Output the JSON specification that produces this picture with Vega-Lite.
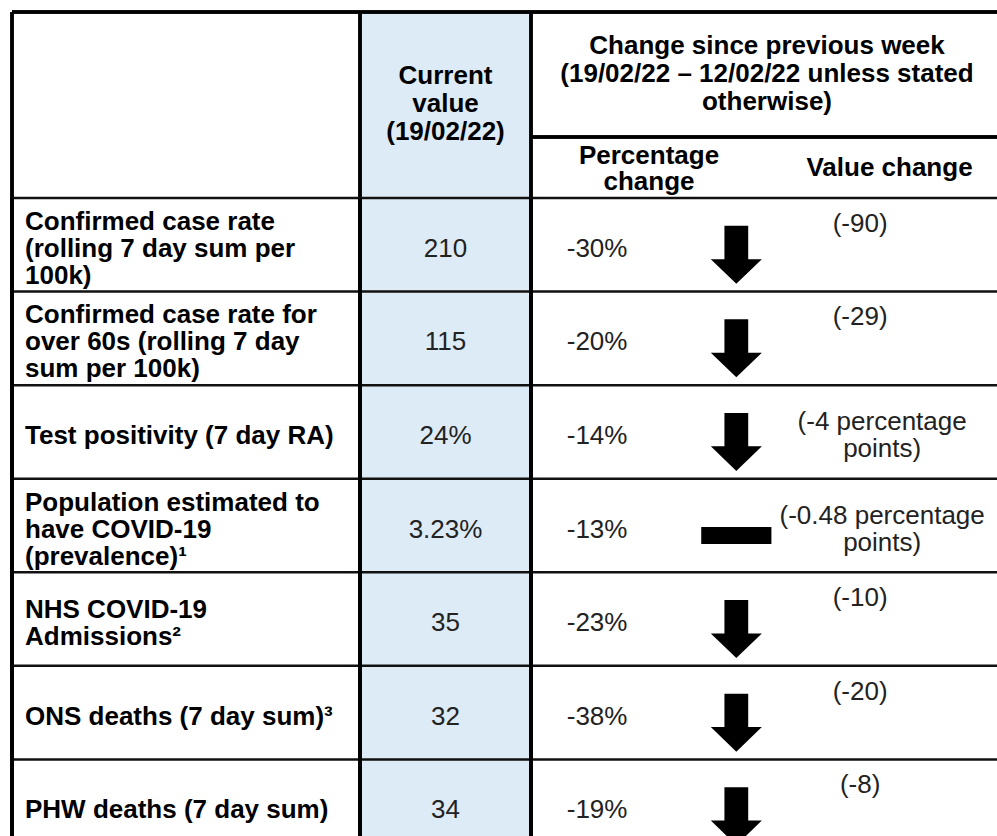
{
  "$schema": "https://vega.github.io/schema/vega-lite/v6.json",
  "padding": {"left": 10, "top": 10, "right": 0, "bottom": 0},
  "background": "white",
  "spacing": 0,
  "bounds": "flush",
  "config": {
    "view": {"stroke": null},
    "font": "Liberation Sans",
    "text": {"font": "Liberation Sans", "fontSize": 26, "lineHeight": 27, "lineBreak": "\n", "color": "#222222"}
  },
  "datasets": {
    "header": [
      {"part": "current", "text": "Current\nvalue\n(19/02/22)"},
      {"part": "change", "text": "Change since previous week\n(19/02/22 – 12/02/22 unless stated\notherwise)"},
      {"part": "pct", "text": "Percentage\nchange"},
      {"part": "value", "text": "Value change"}
    ],
    "metrics": [
      {"id": "m1", "label": "Confirmed case rate\n(rolling 7 day sum per\n100k)", "current": "210", "pct": "-30%", "direction": "down", "change": "(-90)"},
      {"id": "m2", "label": "Confirmed case rate for\nover 60s (rolling 7 day\nsum per 100k)", "current": "115", "pct": "-20%", "direction": "down", "change": "(-29)"},
      {"id": "m3", "label": "Test positivity (7 day RA)", "current": "24%", "pct": "-14%", "direction": "down", "change": "(-4 percentage\npoints)"},
      {"id": "m4", "label": "Population estimated to\nhave COVID-19\n(prevalence)¹", "current": "3.23%", "pct": "-13%", "direction": "flat", "change": "(-0.48 percentage\npoints)"},
      {"id": "m5", "label": "NHS COVID-19\nAdmissions²", "current": "35", "pct": "-23%", "direction": "down", "change": "(-10)"},
      {"id": "m6", "label": "ONS deaths (7 day sum)³", "current": "32", "pct": "-38%", "direction": "down", "change": "(-20)"},
      {"id": "m7", "label": "PHW deaths (7 day sum)", "current": "34", "pct": "-19%", "direction": "down", "change": "(-8)"}
    ]
  },
  "vconcat": [
    {
      "width": 987,
      "height": 186,
      "data": {"name": "header"},
      "layer": [
        {
          "mark": {"type": "rect", "color": "#DDEBF7"},
          "encoding": {
            "x": {"datum": 1, "type": "quantitative", "scale": {"domain": [0, 1, 2, 3, 4], "range": [0, 348, 519, 755, 1000], "nice": false, "zero": false}, "axis": null},
            "x2": {"datum": 2},
            "y": {"datum": 0, "type": "quantitative", "scale": {"domain": [0, 1, 2], "range": [0, 125, 186], "nice": false, "zero": false}, "axis": null},
            "y2": {"datum": 2}
          }
        },
        {
          "mark": {"type": "rule", "color": "#000000", "strokeWidth": 3, "clip": true},
          "encoding": {
            "x": {"datum": 2, "type": "quantitative", "scale": {"domain": [0, 1, 2, 3, 4], "range": [0, 348, 519, 755, 1000], "nice": false, "zero": false}, "axis": null},
            "x2": {"datum": 4},
            "y": {"datum": 1, "type": "quantitative", "scale": {"domain": [0, 1, 2], "range": [0, 125, 186], "nice": false, "zero": false}, "axis": null}
          }
        },
        {
          "mark": {"type": "rule", "color": "#000000", "strokeWidth": 3},
          "encoding": {
            "y": {"datum": 0, "type": "quantitative", "scale": {"domain": [0, 1, 2], "range": [0, 125, 186], "nice": false, "zero": false}, "axis": null}
          }
        },
        {
          "mark": {"type": "rule", "color": "#000000", "strokeWidth": 3},
          "encoding": {
            "x": {"datum": 0, "type": "quantitative", "scale": {"domain": [0, 1, 2, 3, 4], "range": [0, 348, 519, 755, 1000], "nice": false, "zero": false}, "axis": null}
          }
        },
        {
          "mark": {"type": "rule", "color": "#000000", "strokeWidth": 3},
          "encoding": {
            "x": {"datum": 1, "type": "quantitative", "scale": {"domain": [0, 1, 2, 3, 4], "range": [0, 348, 519, 755, 1000], "nice": false, "zero": false}, "axis": null}
          }
        },
        {
          "mark": {"type": "rule", "color": "#000000", "strokeWidth": 3},
          "encoding": {
            "x": {"datum": 2, "type": "quantitative", "scale": {"domain": [0, 1, 2, 3, 4], "range": [0, 348, 519, 755, 1000], "nice": false, "zero": false}, "axis": null}
          }
        },
        {
          "transform": [{"filter": "datum.part == 'current'"}],
          "mark": {"type": "text", "fontWeight": "bold", "color": "#000000", "align": "center", "baseline": "middle", "lineHeight": 28, "dy": -29},
          "encoding": {
            "x": {"datum": 1.5, "type": "quantitative", "scale": {"domain": [0, 1, 2, 3, 4], "range": [0, 348, 519, 755, 1000], "nice": false, "zero": false}, "axis": null},
            "text": {"field": "text"}
          }
        },
        {
          "transform": [{"filter": "datum.part == 'change'"}],
          "mark": {"type": "text", "fontWeight": "bold", "color": "#000000", "align": "center", "baseline": "middle", "lineHeight": 28, "dy": -29},
          "encoding": {
            "x": {"datum": 3, "type": "quantitative", "scale": {"domain": [0, 1, 2, 3, 4], "range": [0, 348, 519, 755, 1000], "nice": false, "zero": false}, "axis": null},
            "y": {"datum": 0.5, "type": "quantitative", "scale": {"domain": [0, 1, 2], "range": [0, 125, 186], "nice": false, "zero": false}, "axis": null},
            "text": {"field": "text"}
          }
        },
        {
          "transform": [{"filter": "datum.part == 'pct'"}],
          "mark": {"type": "text", "fontWeight": "bold", "color": "#000000", "align": "center", "baseline": "middle", "lineHeight": 26, "dy": -12},
          "encoding": {
            "x": {"datum": 2.5, "type": "quantitative", "scale": {"domain": [0, 1, 2, 3, 4], "range": [0, 348, 519, 755, 1000], "nice": false, "zero": false}, "axis": null},
            "y": {"datum": 1.5, "type": "quantitative", "scale": {"domain": [0, 1, 2], "range": [0, 125, 186], "nice": false, "zero": false}, "axis": null},
            "text": {"field": "text"}
          }
        },
        {
          "transform": [{"filter": "datum.part == 'value'"}],
          "mark": {"type": "text", "fontWeight": "bold", "color": "#000000", "align": "center", "baseline": "middle", "dy": 0},
          "encoding": {
            "x": {"datum": 3.5, "type": "quantitative", "scale": {"domain": [0, 1, 2, 3, 4], "range": [0, 348, 519, 755, 1000], "nice": false, "zero": false}, "axis": null},
            "y": {"datum": 1.5, "type": "quantitative", "scale": {"domain": [0, 1, 2], "range": [0, 125, 186], "nice": false, "zero": false}, "axis": null},
            "text": {"field": "text"}
          }
        }
      ]
    },
    {
      "width": 987,
      "height": 640,
      "data": {"name": "metrics"},
      "layer": [
        {
          "mark": {"type": "rect", "color": "#DDEBF7"},
          "encoding": {
            "x": {"datum": 1, "type": "quantitative", "scale": {"domain": [0, 1, 2, 3, 4], "range": [0, 348, 519, 755, 1000], "nice": false, "zero": false}, "axis": null},
            "x2": {"datum": 2}
          }
        },
        {
          "mark": {"type": "rule", "color": "#111111", "strokeWidth": 2.5},
          "encoding": {
            "y": {"field": "id", "type": "nominal", "bandPosition": 0, "scale": {"type": "band", "domain": ["m1", "m2", "m3", "m4", "m5", "m6", "m7"], "range": [0, 655], "paddingInner": 0, "paddingOuter": 0}, "axis": null}
          }
        },
        {
          "mark": {"type": "rule", "color": "#000000", "strokeWidth": 3},
          "encoding": {
            "x": {"datum": 0, "type": "quantitative", "scale": {"domain": [0, 1, 2, 3, 4], "range": [0, 348, 519, 755, 1000], "nice": false, "zero": false}, "axis": null}
          }
        },
        {
          "mark": {"type": "rule", "color": "#000000", "strokeWidth": 3},
          "encoding": {
            "x": {"datum": 1, "type": "quantitative", "scale": {"domain": [0, 1, 2, 3, 4], "range": [0, 348, 519, 755, 1000], "nice": false, "zero": false}, "axis": null}
          }
        },
        {
          "mark": {"type": "rule", "color": "#000000", "strokeWidth": 3},
          "encoding": {
            "x": {"datum": 2, "type": "quantitative", "scale": {"domain": [0, 1, 2, 3, 4], "range": [0, 348, 519, 755, 1000], "nice": false, "zero": false}, "axis": null}
          }
        },
        {
          "transform": [{"filter": "indexof(datum.label, '\\n') >= 0 && indexof(datum.label, '\\n') != lastindexof(datum.label, '\\n')"}],
          "mark": {"type": "text", "fontWeight": "bold", "color": "#000000", "align": "left", "baseline": "middle", "dx": 13, "dy": -23},
          "encoding": {
            "x": {"datum": 0, "type": "quantitative", "scale": {"domain": [0, 1, 2, 3, 4], "range": [0, 348, 519, 755, 1000], "nice": false, "zero": false}, "axis": null},
            "y": {"field": "id", "type": "nominal", "scale": {"type": "band", "domain": ["m1", "m2", "m3", "m4", "m5", "m6", "m7"], "range": [0, 655], "paddingInner": 0, "paddingOuter": 0}, "axis": null},
            "text": {"field": "label"}
          }
        },
        {
          "transform": [{"filter": "indexof(datum.label, '\\n') >= 0 && indexof(datum.label, '\\n') == lastindexof(datum.label, '\\n')"}],
          "mark": {"type": "text", "fontWeight": "bold", "color": "#000000", "align": "left", "baseline": "middle", "dx": 13, "dy": -9.5},
          "encoding": {
            "x": {"datum": 0, "type": "quantitative", "scale": {"domain": [0, 1, 2, 3, 4], "range": [0, 348, 519, 755, 1000], "nice": false, "zero": false}, "axis": null},
            "y": {"field": "id", "type": "nominal", "scale": {"type": "band", "domain": ["m1", "m2", "m3", "m4", "m5", "m6", "m7"], "range": [0, 655], "paddingInner": 0, "paddingOuter": 0}, "axis": null},
            "text": {"field": "label"}
          }
        },
        {
          "transform": [{"filter": "indexof(datum.label, '\\n') < 0"}],
          "mark": {"type": "text", "fontWeight": "bold", "color": "#000000", "align": "left", "baseline": "middle", "dx": 13, "dy": 4},
          "encoding": {
            "x": {"datum": 0, "type": "quantitative", "scale": {"domain": [0, 1, 2, 3, 4], "range": [0, 348, 519, 755, 1000], "nice": false, "zero": false}, "axis": null},
            "y": {"field": "id", "type": "nominal", "scale": {"type": "band", "domain": ["m1", "m2", "m3", "m4", "m5", "m6", "m7"], "range": [0, 655], "paddingInner": 0, "paddingOuter": 0}, "axis": null},
            "text": {"field": "label"}
          }
        },
        {
          "mark": {"type": "text", "align": "center", "baseline": "middle", "dy": 4},
          "encoding": {
            "x": {"datum": 1.5, "type": "quantitative", "scale": {"domain": [0, 1, 2, 3, 4], "range": [0, 348, 519, 755, 1000], "nice": false, "zero": false}, "axis": null},
            "y": {"field": "id", "type": "nominal", "scale": {"type": "band", "domain": ["m1", "m2", "m3", "m4", "m5", "m6", "m7"], "range": [0, 655], "paddingInner": 0, "paddingOuter": 0}, "axis": null},
            "text": {"field": "current"}
          }
        },
        {
          "mark": {"type": "text", "align": "center", "baseline": "middle", "dy": 4},
          "encoding": {
            "x": {"datum": 2.28, "type": "quantitative", "scale": {"domain": [0, 1, 2, 3, 4], "range": [0, 348, 519, 755, 1000], "nice": false, "zero": false}, "axis": null},
            "y": {"field": "id", "type": "nominal", "scale": {"type": "band", "domain": ["m1", "m2", "m3", "m4", "m5", "m6", "m7"], "range": [0, 655], "paddingInner": 0, "paddingOuter": 0}, "axis": null},
            "text": {"field": "pct"}
          }
        },
        {
          "mark": {"type": "point", "filled": true, "opacity": 1, "color": "#000000", "strokeWidth": 0, "size": 3364, "yOffset": 10},
          "encoding": {
            "x": {"datum": 2.87, "type": "quantitative", "scale": {"domain": [0, 1, 2, 3, 4], "range": [0, 348, 519, 755, 1000], "nice": false, "zero": false}, "axis": null},
            "y": {"field": "id", "type": "nominal", "scale": {"type": "band", "domain": ["m1", "m2", "m3", "m4", "m5", "m6", "m7"], "range": [0, 655], "paddingInner": 0, "paddingOuter": 0}, "axis": null},
            "shape": {"field": "direction", "type": "nominal", "scale": {"domain": ["down", "flat"], "range": ["M-0.41,-1L0.41,-1L0.41,0.15L0.88,0.15L0,1L-0.88,0.15L-0.41,0.15Z", "M-1.21,-0.29L1.21,-0.29L1.21,0.29L-1.21,0.29Z"]}, "legend": null}
          }
        },
        {
          "transform": [{"filter": "indexof(datum.change, '\\n') < 0"}],
          "mark": {"type": "text", "align": "center", "baseline": "middle", "dy": -21},
          "encoding": {
            "x": {"datum": 3.38, "type": "quantitative", "scale": {"domain": [0, 1, 2, 3, 4], "range": [0, 348, 519, 755, 1000], "nice": false, "zero": false}, "axis": null},
            "y": {"field": "id", "type": "nominal", "scale": {"type": "band", "domain": ["m1", "m2", "m3", "m4", "m5", "m6", "m7"], "range": [0, 655], "paddingInner": 0, "paddingOuter": 0}, "axis": null},
            "text": {"field": "change"}
          }
        },
        {
          "transform": [{"filter": "indexof(datum.change, '\\n') >= 0"}],
          "mark": {"type": "text", "align": "center", "baseline": "middle", "dy": -9.5},
          "encoding": {
            "x": {"datum": 3.47, "type": "quantitative", "scale": {"domain": [0, 1, 2, 3, 4], "range": [0, 348, 519, 755, 1000], "nice": false, "zero": false}, "axis": null},
            "y": {"field": "id", "type": "nominal", "scale": {"type": "band", "domain": ["m1", "m2", "m3", "m4", "m5", "m6", "m7"], "range": [0, 655], "paddingInner": 0, "paddingOuter": 0}, "axis": null},
            "text": {"field": "change"}
          }
        }
      ]
    }
  ]
}
